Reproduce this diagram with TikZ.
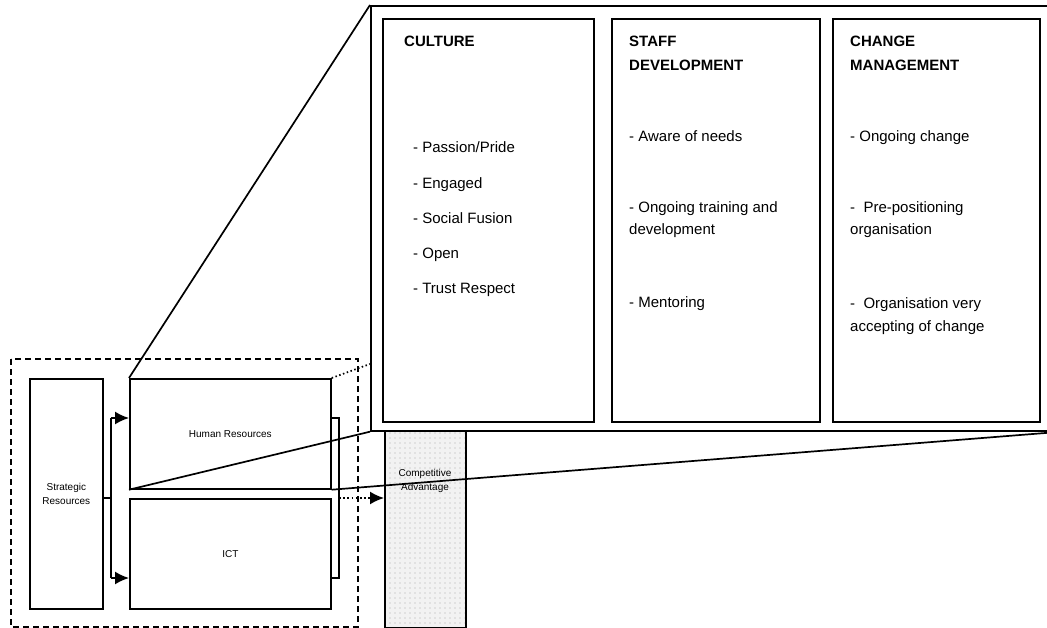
\documentclass[tikz,border=0pt]{standalone}
\usepackage{fontspec}
\setmainfont{Liberation Sans}
\usetikzlibrary{arrows.meta,patterns.meta}
\tikzset{
  ln/.style={line width=1.7pt},
  blk/.style={draw, ln, inner sep=0pt, anchor=north west, align=center, font=\fontsize{10}{14}\selectfont},
  col/.style={draw, ln, inner sep=0pt, anchor=north west},
  head/.style={anchor=base west, inner sep=0pt, align=left, font=\fontsize{15}{24}\selectfont\bfseries},
  item/.style={anchor=base west, inner sep=0pt, align=left, font=\fontsize{15}{22}\selectfont},
}
\begin{document}
\begin{tikzpicture}[x=1pt,y=-1pt,>={Latex[length=14pt,width=13pt]}]
\useasboundingbox (0,0) rectangle (1047,628);
% resources block
\draw[ln, dash pattern=on 6pt off 4pt] (11,359) rectangle (358,627);
\node[blk, minimum width=73, minimum height=230] (sr) at (29,378) {Strategic\\Resources};
\node[blk, minimum width=201, minimum height=110] (hr) at (129,378) {Human Resources};
\node[blk, minimum width=201, minimum height=110] (ict) at (129,498) {ICT};
\node[blk, minimum width=81, minimum height=197, preaction={fill=gray!10},
  pattern={Dots[distance=5pt,radius=0.7pt]}, pattern color=gray!65] (ca) at (384,430) {};
\node[font=\fontsize{10}{14}\selectfont, align=center] (catxt) at (425,481) {Competitive\\Advantage};
% zoomed panel
\node[col, minimum width=690, minimum height=425, fill=white] (zoom) at (370,5) {};
\coordinate (zdot) at (370,364);
\draw[ln] (hr.north west) -- (zoom.north west);
\draw[ln] (hr.south west) -- (zoom.south west);
\draw[ln] (hr.south east) -- (zoom.south east);
\draw[ln, dash pattern=on 1.5pt off 2.5pt] (hr.north east) -- (zdot);
\node[col, minimum width=211, minimum height=403] (cul) at (382,18) {};
\node[col, minimum width=208, minimum height=403] (staff) at (611,18) {};
\node[col, minimum width=207, minimum height=403] (chg) at (832,18) {};
% culture
\node[head] (culh) at (404,47) {CULTURE};
\node[item] (c1) at (413,153) {- Passion/Pride};
\node[item] (c2) at (413,189) {- Engaged};
\node[item] (c3) at (413,224) {- Social Fusion};
\node[item] (c4) at (413,259) {- Open};
\node[item] (c5) at (413,294) {- Trust Respect};
% staff development
\node[head] (staffh) at (629,71) {STAFF\\DEVELOPMENT};
\node[item] (s1) at (629,142) {- Aware of needs};
\node[item] (s2) at (629,235) {- Ongoing training and\\development};
\node[item] (s3) at (629,308) {- Mentoring};
% change management
\node[head] (chgh) at (850,71) {CHANGE\\MANAGEMENT};
\node[item] (m1) at (850,142) {- Ongoing change};
\node[item] (m2) at (850,235) {-\ \ Pre-positioning\\organisation};
\node[item] (m3) at (850,331) {-\ \ Organisation very\\accepting of change};
% connectors
\coordinate (fork) at (111,498);
\coordinate (up) at (111,418);
\coordinate (dn) at (111,578);
\coordinate (brk) at (339,498);
\draw[ln] (sr.east |- fork) -- (fork);
\draw[ln] (up) -- (dn);
\draw[ln,->] (up) -- (up -| hr.west);
\draw[ln,->] (dn) -- (dn -| ict.west);
\draw[ln] (up -| hr.east) -| (brk |- dn) -- (dn -| ict.east);
\draw[ln, dash pattern=on 1.7pt off 2.5pt, ->] (brk) -- (brk -| ca.west);
\end{tikzpicture}
\end{document}
